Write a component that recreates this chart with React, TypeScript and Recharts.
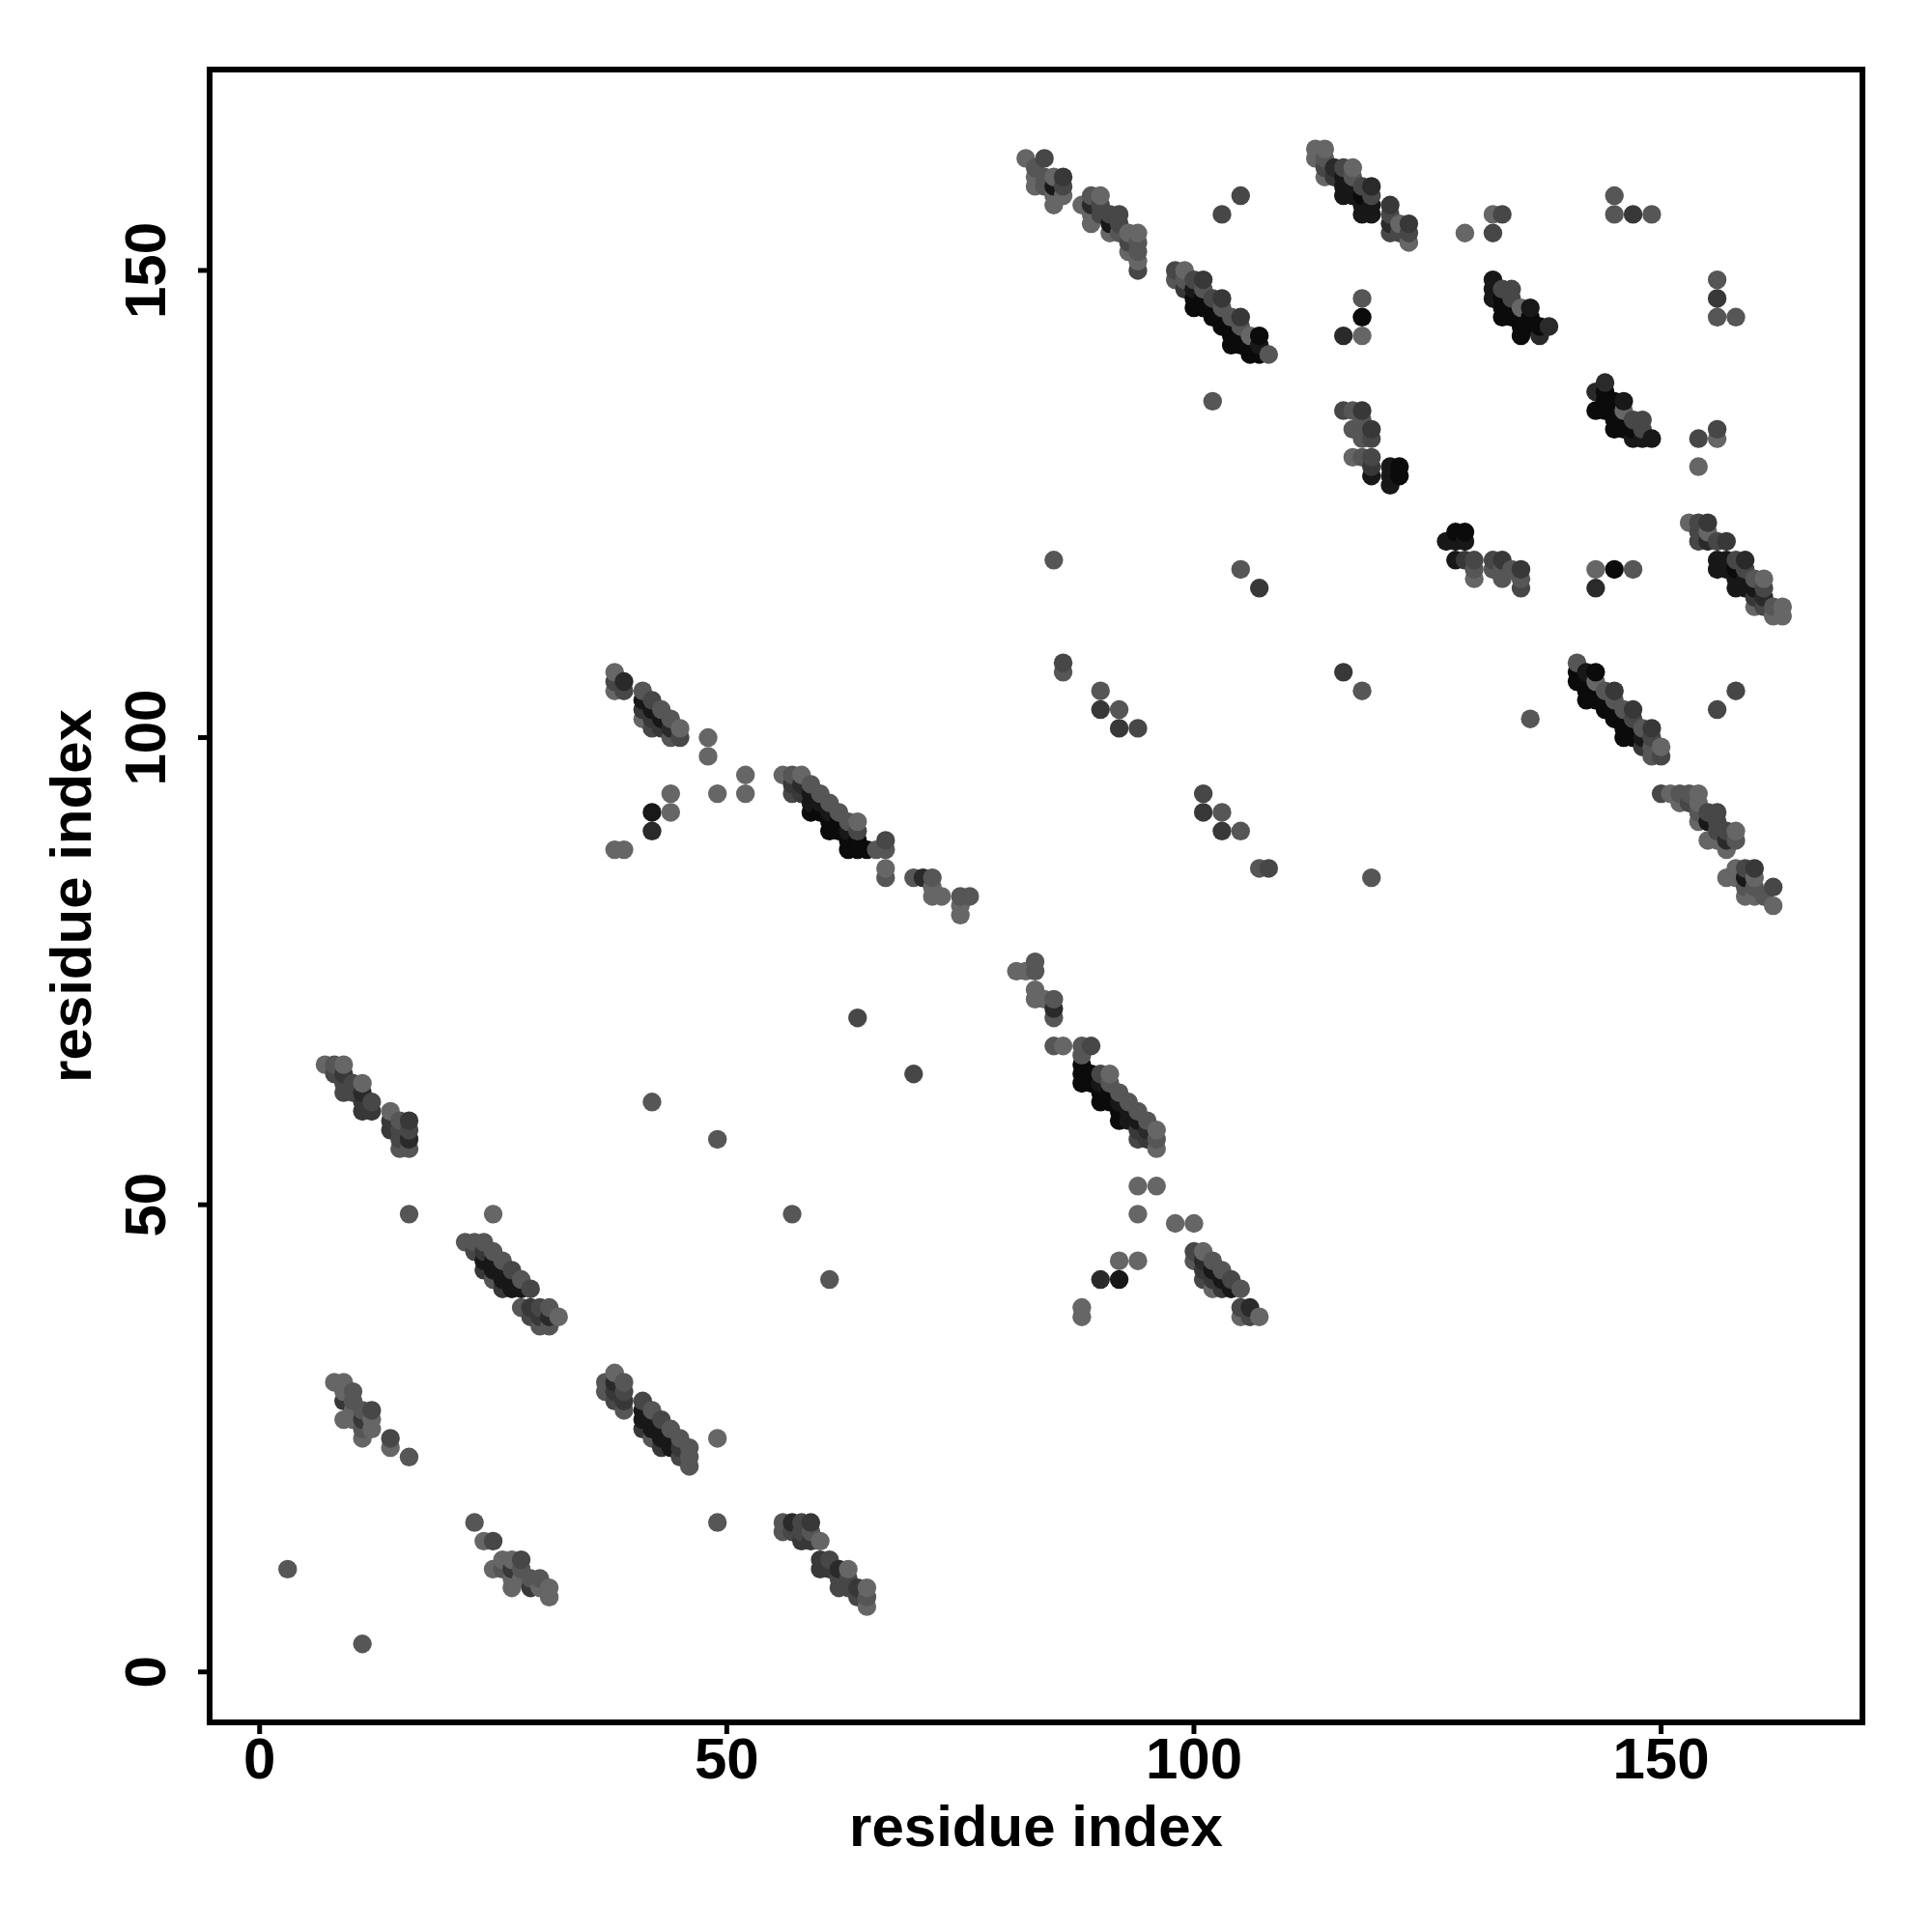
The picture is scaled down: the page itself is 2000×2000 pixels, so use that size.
import { ScatterChart, Scatter, XAxis, YAxis, ReferenceArea, Label } from "recharts";

// [residue x, residue y, contact level] - level 0 is the strongest contact, 6 the weakest
type Contact = [number, number, number];

const axisTicks = [0, 50, 100, 150];
const levelGreys = ["#0b0b0b", "#181818", "#2a2a2a", "#383838", "#474747", "#565656", "#666666"];

const bandA: Contact[] = [
  [7,65,6],[8,64,4],[8,65,5],[9,62,4],[9,63,4],[9,64,3],[9,65,6],[10,62,4],[10,63,4],[11,60,3],[11,61,3],[11,62,2],[11,63,6],
  [12,60,3],[12,61,4],[14,58,3],[14,59,3],[14,60,6],[15,56,5],[15,57,4],[15,58,4],[15,59,5],[16,56,5],[16,57,2],[16,58,4],[16,59,3],
];
const bandAMirror: Contact[] = [
  [65,7,6],[64,8,4],[65,8,5],[62,9,4],[63,9,4],[64,9,3],[65,9,6],[62,10,4],[63,10,4],[60,11,3],[61,11,3],[62,11,2],[63,11,6],
  [60,12,3],[61,12,4],[58,14,3],[59,14,3],[60,14,6],[56,15,5],[57,15,4],[58,15,4],[59,15,5],[56,16,5],[57,16,2],[58,16,4],[59,16,3],
];
const bandB: Contact[] = [
  [22,46,5],[23,45,4],[23,46,5],[24,43,3],[24,44,1],[24,45,3],[24,46,5],[25,42,5],[25,43,1],[25,44,1],[25,45,5],[26,41,3],[26,42,1],[26,43,1],[26,44,5],
  [27,41,1],[27,42,1],[27,43,4],[28,39,5],[28,41,1],[28,42,5],[29,38,4],[29,39,3],[29,41,4],[30,37,5],[30,38,3],[30,39,4],[31,37,5],[31,38,2],[31,39,5],[32,38,6],
];
const bandBMirror: Contact[] = [
  [46,22,5],[45,23,4],[46,23,5],[43,24,3],[44,24,1],[45,24,3],[46,24,5],[42,25,5],[43,25,1],[44,25,1],[45,25,5],[41,26,3],[42,26,1],[43,26,1],[44,26,5],
  [41,27,1],[42,27,1],[43,27,4],[39,28,5],[41,28,1],[42,28,5],[38,29,4],[39,29,3],[41,29,4],[37,30,5],[38,30,3],[39,30,4],[37,31,5],[38,31,2],[39,31,5],[38,32,6],
];
const bandC: Contact[] = [
  [8,31,6],[9,27,6],[9,29,3],[9,30,6],[9,31,6],[10,27,6],[10,28,6],[10,29,5],[10,30,5],[11,25,6],[11,26,5],[11,27,3],[11,28,5],[12,26,6],[12,27,6],[12,28,4],[14,24,6],[14,25,4],[16,23,5],
];
const bandCMirror: Contact[] = [
  [31,8,6],[27,9,6],[29,9,3],[30,9,6],[31,9,6],[27,10,6],[28,10,6],[29,10,5],[30,10,5],[25,11,6],[26,11,5],[27,11,3],[28,11,5],[26,12,6],[27,12,6],[28,12,4],[24,14,6],[25,14,4],[23,16,5],
];
const bandD: Contact[] = [
  [38,105,6],[38,106,4],[38,107,6],[39,105,4],[39,106,2],[41,102,6],[41,103,3],[41,104,1],[41,105,5],[42,101,4],[42,102,3],[42,103,1],[42,104,4],
  [43,101,3],[43,102,1],[43,103,5],[44,100,5],[44,101,2],[44,102,5],[45,100,4],[45,101,6],
];
const bandDMirror: Contact[] = [
  [105,38,6],[106,38,4],[107,38,6],[105,39,4],[106,39,2],[102,41,6],[103,41,3],[104,41,1],[105,41,5],[101,42,4],[102,42,3],[103,42,1],[104,42,4],
  [101,43,3],[102,43,1],[103,43,5],[100,44,5],[101,44,2],[102,44,5],[100,45,4],[101,45,6],
];
const bandE: Contact[] = [
  [56,96,6],[57,94,4],[57,95,3],[57,96,5],[58,94,3],[58,95,2],[58,96,6],[59,92,0],[59,93,1],[59,94,1],[59,95,5],[60,92,0],[60,93,1],[60,94,5],
  [61,90,0],[61,91,0],[61,92,1],[61,93,5],[62,90,0],[62,91,0],[62,92,5],[63,88,0],[63,89,0],[63,90,1],[63,91,5],[64,88,0],[64,89,0],[64,90,4],[64,91,6],
  [65,88,0],[66,88,5],[67,85,5],[67,86,6],[67,88,5],[67,89,4],[70,85,5],[71,85,2],[72,83,6],[72,84,6],[72,85,5],[73,83,6],[75,81,6],[75,82,6],[75,83,5],[76,83,5],
];
const bandEMirror: Contact[] = [
  [96,56,6],[94,57,4],[95,57,3],[96,57,5],[94,58,3],[95,58,2],[96,58,6],[92,59,0],[93,59,1],[94,59,1],[95,59,5],[92,60,0],[93,60,1],[94,60,5],
  [90,61,0],[91,61,0],[92,61,1],[93,61,5],[90,62,0],[91,62,0],[92,62,5],[88,63,0],[89,63,0],[90,63,1],[91,63,5],[88,64,0],[89,64,0],[90,64,4],[91,64,6],
  [88,65,0],[88,66,5],[85,67,5],[86,67,6],[88,67,5],[89,67,4],[85,70,5],[85,71,2],[83,72,6],[84,72,6],[85,72,5],[83,73,6],[81,75,6],[82,75,6],[83,75,5],[83,76,5],
];
const bandF: Contact[] = [
  [82,162,6],[83,159,6],[83,160,6],[83,161,5],[84,159,5],[84,160,5],[84,162,4],[85,157,6],[85,158,6],[85,159,1],[85,160,6],[86,158,6],[86,159,4],[86,160,3],
  [88,157,6],[89,155,6],[89,156,6],[89,157,2],[89,158,5],[90,156,4],[90,157,4],[90,158,6],[91,154,6],[91,155,1],[91,156,4],[92,154,5],[92,155,4],[92,156,4],
  [93,152,6],[93,153,4],[93,154,6],[94,150,4],[94,151,6],[94,152,5],[94,153,5],[94,154,6],
];
const bandFMirror: Contact[] = [
  [162,82,6],[159,83,6],[160,83,6],[161,83,5],[159,84,5],[160,84,5],[162,84,4],[157,85,6],[158,85,6],[159,85,1],[160,85,6],[158,86,6],[159,86,4],[160,86,3],
  [157,88,6],[155,89,6],[156,89,6],[157,89,2],[158,89,5],[156,90,4],[157,90,4],[158,90,6],[154,91,6],[155,91,1],[156,91,4],[154,92,5],[155,92,4],[156,92,4],
  [152,93,6],[153,93,4],[154,93,6],[150,94,4],[151,94,6],[152,94,5],[153,94,5],[154,94,6],
];
const bandG: Contact[] = [
  [98,149,5],[98,150,4],[99,148,3],[99,149,5],[99,150,6],[100,146,0],[100,147,0],[100,148,1],[100,149,4],[101,146,0],[101,147,0],[101,148,5],[101,149,3],
  [102,145,0],[102,146,0],[102,147,4],[103,144,0],[103,145,0],[103,146,5],[103,147,3],[104,142,0],[104,143,0],[104,144,0],[104,145,5],
  [105,142,0],[105,143,0],[105,144,5],[105,145,3],[106,141,0],[106,142,0],[106,143,6],[107,141,0],[107,142,1],[107,143,0],[108,141,5],
];
const bandGMirror: Contact[] = [
  [149,98,5],[150,98,4],[148,99,3],[149,99,5],[150,99,6],[146,100,0],[147,100,0],[148,100,1],[149,100,4],[146,101,0],[147,101,0],[148,101,5],[149,101,3],
  [145,102,0],[146,102,0],[147,102,4],[144,103,0],[145,103,0],[146,103,5],[147,103,3],[142,104,0],[143,104,0],[144,104,0],[145,104,5],
  [142,105,0],[143,105,0],[144,105,5],[145,105,3],[141,106,0],[142,106,0],[143,106,6],[141,107,0],[142,107,1],[143,107,0],[141,108,5],
];
const bandH: Contact[] = [
  [113,162,6],[113,163,6],[114,160,6],[114,161,4],[114,162,5],[114,163,6],[115,160,3],[115,161,2],[116,158,1],[116,159,1],[116,160,1],[116,161,4],
  [117,158,1],[117,159,1],[117,160,5],[117,161,6],[118,156,1],[118,157,1],[118,158,0],[118,159,4],[119,156,1],[119,157,1],[119,158,4],[119,159,2],
  [121,154,4],[121,155,2],[121,156,4],[121,157,3],[122,154,4],[122,155,6],[123,153,6],[123,154,4],[123,155,3],
];
const bandHMirror: Contact[] = [
  [162,113,6],[163,113,6],[160,114,6],[161,114,4],[162,114,5],[163,114,6],[160,115,3],[161,115,2],[158,116,1],[159,116,1],[160,116,1],[161,116,4],
  [158,117,1],[159,117,1],[160,117,5],[161,117,6],[156,118,1],[157,118,1],[158,118,0],[159,118,4],[156,119,1],[157,119,1],[158,119,4],[159,119,2],
  [154,121,4],[155,121,2],[156,121,4],[157,121,3],[154,122,4],[155,122,6],[153,123,6],[154,123,4],[155,123,3],
];
const bandI: Contact[] = [
  [132,147,1],[132,148,1],[132,149,1],[133,145,0],[133,146,0],[133,147,0],[133,148,4],[134,145,0],[134,146,0],[134,147,4],[134,148,4],
  [135,143,0],[135,144,0],[135,145,0],[135,146,6],[136,144,0],[136,145,0],[136,146,1],[137,143,2],[137,144,0],[138,144,2],
];
const bandIMirror: Contact[] = [
  [147,132,1],[148,132,1],[149,132,1],[145,133,0],[146,133,0],[147,133,0],[148,133,4],[145,134,0],[146,134,0],[147,134,4],[148,134,4],
  [143,135,0],[144,135,0],[145,135,0],[146,135,6],[144,136,0],[145,136,0],[146,136,1],[143,137,2],[144,137,0],[144,138,2],
];
const bandJ: Contact[] = [
  [116,135,4],[117,130,6],[117,133,5],[117,135,5],[118,130,5],[118,132,5],[118,133,5],[118,134,5],[118,135,3],[119,128,1],[119,129,3],[119,130,4],[119,132,4],[119,133,3],
  [121,127,1],[121,128,1],[121,129,1],[122,128,0],[122,129,0],
];
const bandJMirror: Contact[] = [
  [135,116,4],[130,117,6],[133,117,5],[135,117,5],[130,118,5],[132,118,5],[133,118,5],[134,118,5],[135,118,3],[128,119,1],[129,119,3],[130,119,4],[132,119,4],[133,119,3],
  [127,121,1],[128,121,1],[129,121,1],[128,122,0],[129,122,0],
];
const isolated: Contact[] = [
  [3,11,5],[11,3,5],[16,49,5],[49,16,5],[25,49,6],[49,25,6],[42,61,5],[61,42,5],[49,57,5],[57,49,5],[64,70,4],[70,64,4],
  [44,92,6],[92,44,6],[44,94,6],[94,44,6],[42,90,2],[90,42,2],[42,92,1],[92,42,1],[38,88,6],[88,38,6],[39,88,6],[88,39,6],
  [48,98,6],[98,48,6],[48,100,6],[100,48,6],[49,94,6],[94,49,6],[52,94,6],[94,52,6],[52,96,6],[96,52,6],
  [85,119,5],[119,85,5],[86,107,5],[107,86,5],[86,108,4],[108,86,4],[90,103,3],[103,90,3],[90,105,5],[105,90,5],[92,101,3],[101,92,3],[92,103,5],[103,92,5],[94,101,4],[101,94,4],
  [102,136,5],[136,102,5],[103,156,4],[156,103,4],[105,158,4],[158,105,4],[105,118,5],[118,105,5],[107,116,3],[116,107,3],
  [116,143,2],[143,116,2],[118,143,6],[143,118,6],[118,145,0],[145,118,0],[118,147,5],[147,118,5],
  [129,154,6],[154,129,6],[132,154,4],[154,132,4],[132,156,6],[156,132,6],[133,156,4],[156,133,4],
  [145,156,5],[156,145,5],[145,158,5],[158,145,5],[147,156,3],[156,147,3],[149,156,5],[156,149,5],
];

const contacts = [
  ...bandA, ...bandAMirror, ...bandB, ...bandBMirror, ...bandC, ...bandCMirror, ...bandD, ...bandDMirror, ...bandE, ...bandEMirror,
  ...bandF, ...bandFMirror, ...bandG, ...bandGMirror, ...bandH, ...bandHMirror, ...bandI, ...bandIMirror, ...bandJ, ...bandJMirror, ...isolated,
]
  .map(([x, y, level]) => ({ x, y, level }))
  .sort((a, b) => a.x - b.x || a.y - b.y); // drawn column by column, later points on top

const FONT = "'Liberation Sans', Arial, sans-serif";
const xDomain: [number, number] = [-5.35, 171.55];
const yDomain: [number, number] = [-5.4, 171.5];

function YTick({ x, y, payload }: any) {
  return (
    <text
      x={x}
      y={y}
      transform={`rotate(-90 ${x} ${y})`}
      textAnchor="middle"
      fontFamily={FONT}
      fontWeight="bold"
      fontSize={60}
      fill="#000"
      dy={-32}
    >
      {payload.value}
    </text>
  );
}

function ContactDot({ cx, cy, payload }: any) {
  return <circle cx={cx} cy={cy} r={9.7} fill={levelGreys[payload.level]} />;
}

export default function App() {
  return (
    <div style={{ position: "absolute", left: 0, top: 0, width: 2000, height: 2000, background: "#fff" }}>
      <ScatterChart width={2000} height={2000} margin={{ top: 72, right: 72, left: 0, bottom: 0 }}>
        <XAxis
          type="number"
          dataKey="x"
          domain={xDomain}
          ticks={axisTicks}
          interval={0}
          allowDataOverflow
          height={217}
          axisLine={false}
          tickSize={12}
          tickLine={{ stroke: "#000", strokeWidth: 5 }}
          tickMargin={3}
          tick={{ fontFamily: FONT, fontWeight: "bold", fontSize: 60, fill: "#000" }}
        >
          <Label
            value="residue index"
            position="insideBottom"
            offset={89}
            style={{ fontFamily: FONT, fontWeight: "bold", fontSize: 60, fill: "#000" }}
          />
        </XAxis>
        <YAxis
          type="number"
          dataKey="y"
          domain={yDomain}
          ticks={axisTicks}
          interval={0}
          allowDataOverflow
          width={217}
          axisLine={false}
          tickSize={12}
          tickLine={{ stroke: "#000", strokeWidth: 5 }}
          tick={<YTick />}
        >
          <Label
            value="residue index"
            angle={-90}
            position="insideLeft"
            offset={73}
            style={{ fontFamily: FONT, fontWeight: "bold", fontSize: 60, fill: "#000", textAnchor: "middle" }}
          />
        </YAxis>
        <Scatter data={contacts} isAnimationActive={false} shape={<ContactDot />} />
        <ReferenceArea
          x1={xDomain[0]}
          x2={xDomain[1]}
          y1={yDomain[0]}
          y2={yDomain[1]}
          fill="none"
          stroke="#000"
          strokeWidth={6}
          ifOverflow="visible"
        />
      </ScatterChart>
    </div>
  );
}
